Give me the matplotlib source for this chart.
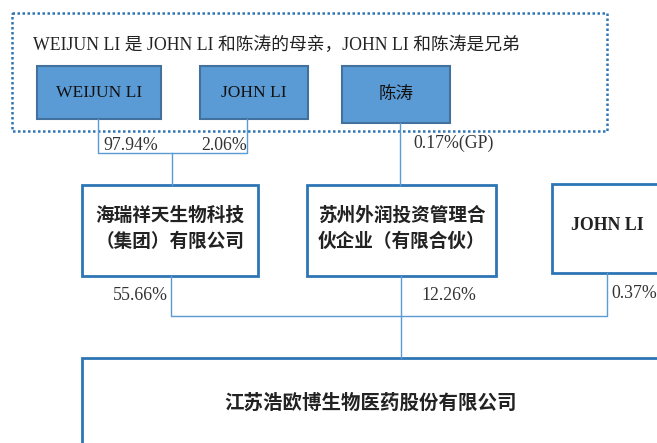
import matplotlib
matplotlib.use("Agg")
from matplotlib import pyplot as plt
from matplotlib.patches import Rectangle

# === 数据 ===
note = "WEIJUN LI 是 JOHN LI 和陈涛的母亲，JOHN LI 和陈涛是兄弟"
people = ["WEIJUN LI", "JOHN LI", "陈涛"]
people_shares = ["97.94%", "2.06%"]
gp_share = "0.17%(GP)"
holders = ["海瑞祥天生物科技\n（集团）有限公司", "苏州外润投资管理合\n伙企业（有限合伙）", "JOHN LI"]
holder_shares = ["55.66%", "12.26%", "0.37%"]
company = "江苏浩欧博生物医药股份有限公司"

FONT = ["Liberation Serif", "Noto Sans CJK SC"]
LINE = "#5B9BD5"
EDGE = "#2E75B6"
TXT = "#222222"
PCT = "#333333"

fig = plt.figure(figsize=(6.57, 4.43), dpi=100)
ax = fig.add_axes([0, 0, 1, 1])
ax.set_xlim(0, 657)
ax.set_ylim(443, 0)
ax.axis("off")

# 虚线外框
ax.add_patch(Rectangle((12, 13), 595, 118, fill=False, edgecolor=EDGE,
                       linestyle=(0, (1, 1)), linewidth=1.8))
ax.text(33, 45, note, family=FONT, fontsize=12.8, color=TXT, va="center", ha="left")

# 第一层：个人
top_boxes = [(37, 66, 124, 53), (200, 66, 108, 53), (342, 66, 108, 57)]
for (x, y, w, h), name in zip(top_boxes, people):
    ax.add_patch(Rectangle((x, y), w, h, facecolor="#5B9BD5", edgecolor="#41719C", linewidth=1.5))
    ax.text(x + w / 2, y + h / 2, name, family=FONT, fontsize=12.6, color="#111111",
            ha="center", va="center")

# 连接线：WEIJUN LI / JOHN LI -> 海瑞祥
ax.plot([98, 98, 247, 247], [119, 153, 153, 119], color=LINE, lw=1)
ax.plot([172, 172], [153, 185], color=LINE, lw=1)
ax.text(103, 145, people_shares[0], family=FONT, fontsize=12.8, color=PCT, ha="left", va="center")
ax.text(247, 145, people_shares[1], family=FONT, fontsize=12.8, color=PCT, ha="right", va="center")

# 陈涛 -> 苏州外润
ax.plot([400, 400], [123, 185], color=LINE, lw=1)
ax.text(413, 143, gp_share, family=FONT, fontsize=12.8, color=PCT, ha="left", va="center")

# 第二层：股东
mid_boxes = [(82, 185, 176, 91), (307, 185, 189, 91), (552, 184, 120, 89)]
for i, ((x, y, w, h), name) in enumerate(zip(mid_boxes, holders)):
    ax.add_patch(Rectangle((x, y), w, h, facecolor="white", edgecolor=EDGE, linewidth=2))
    if i < 2:
        ax.text(x + w / 2, y + h / 2 - 2, name, family=FONT, fontsize=13.4, weight="bold",
                color=TXT, ha="center", va="center", linespacing=1.55)
    else:
        ax.text(607, 225, name, family=FONT, fontsize=12.8, weight="bold",
                color=TXT, ha="center", va="center")

# 连接线 -> 公司
ax.plot([171, 171, 607, 607], [276, 316, 316, 273], color=LINE, lw=1)
ax.plot([401, 401], [276, 358], color=LINE, lw=1)
ax.text(168, 296, holder_shares[0], family=FONT, fontsize=12.8, color=PCT, ha="right", va="center")
ax.text(421, 296, holder_shares[1], family=FONT, fontsize=12.8, color=PCT, ha="left", va="center")
ax.text(611, 293, holder_shares[2], family=FONT, fontsize=12.8, color=PCT, ha="left", va="center")

# 底层：公司
ax.add_patch(Rectangle((82, 358), 640, 120, facecolor="white", edgecolor=EDGE, linewidth=2))
ax.text(371, 403, company, family=FONT, fontsize=14, weight="bold", color=TXT,
        ha="center", va="center")

fig.savefig("out.png", dpi=100)
